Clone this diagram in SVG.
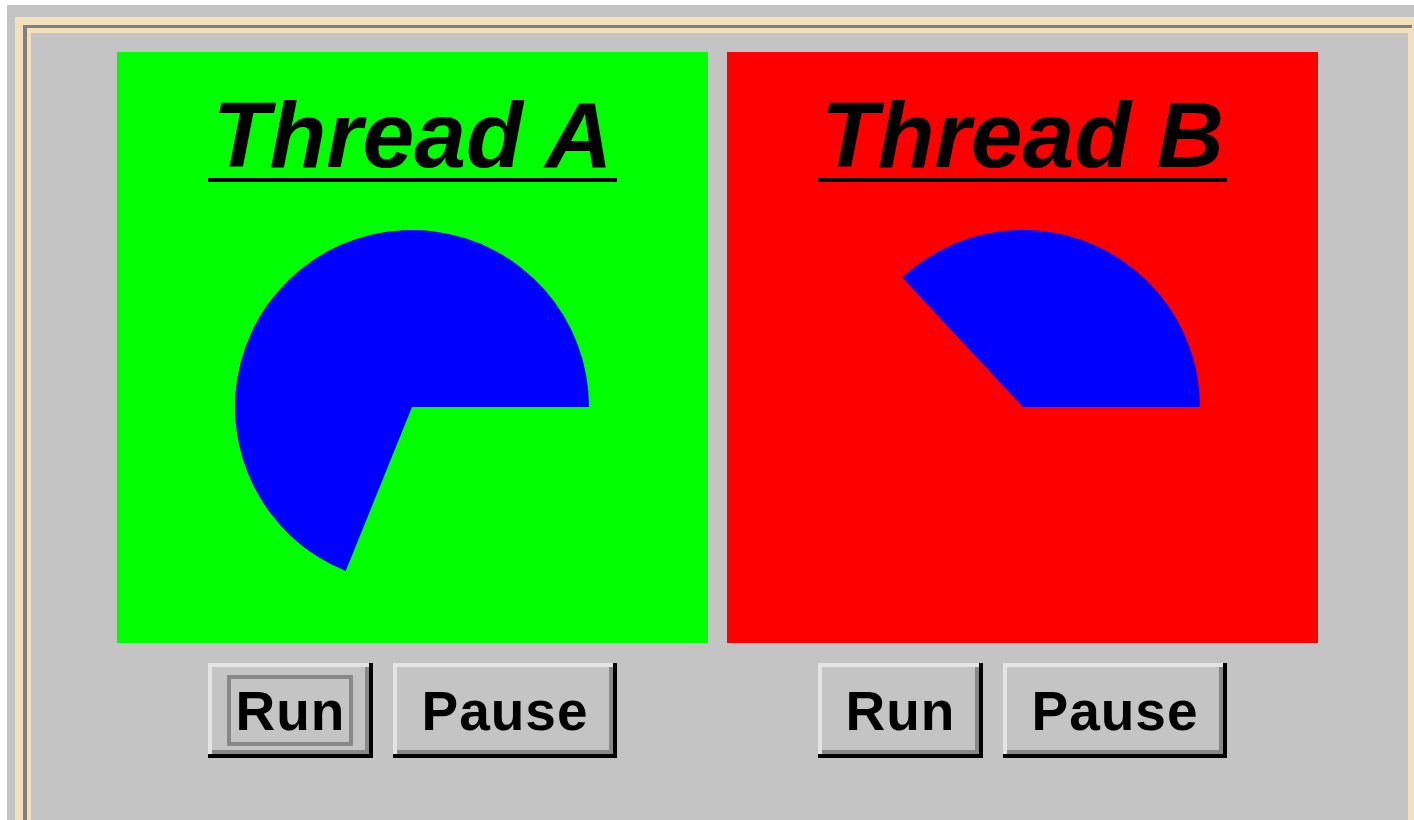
<svg xmlns="http://www.w3.org/2000/svg" width="1414" height="820" viewBox="0 0 1414 820">
  <style>
    .bg { fill: #c4c4c4; }
    .wood { fill: #f2e0bc; }
    .groove { fill: #808080; }
    .title { font-family: "Liberation Sans", Arial, sans-serif; font-weight: bold; font-style: italic; font-size: 93px; fill: #000; text-anchor: middle; }
    .btxt { font-family: "Liberation Sans", Arial, sans-serif; font-weight: bold; font-size: 55px; fill: #000; text-anchor: middle; letter-spacing: 1px; }
    .pie { fill: #0000ff; }
    .hl { fill: #e4e4e4; }
    .sh { fill: #888888; }
    .blk { fill: #000; }
    .face { fill: #c4c4c4; }
  </style>
  <defs>
    <g id="btnRun">
      <rect class="face" x="0" y="0" width="165" height="95"/>
      <rect class="hl" x="0" y="0" width="161" height="4"/>
      <rect class="hl" x="0" y="0" width="4" height="91"/>
      <rect class="sh" x="157" y="4" width="4" height="87"/>
      <rect class="sh" x="4" y="87" width="157" height="4"/>
      <rect class="blk" x="161" y="0" width="4" height="95"/>
      <rect class="blk" x="0" y="91" width="165" height="4"/>
    </g>
    <g id="btnPause">
      <rect class="face" x="0" y="0" width="224" height="95"/>
      <rect class="hl" x="0" y="0" width="220" height="4"/>
      <rect class="hl" x="0" y="0" width="4" height="91"/>
      <rect class="sh" x="216" y="4" width="4" height="87"/>
      <rect class="sh" x="4" y="87" width="216" height="4"/>
      <rect class="blk" x="220" y="0" width="4" height="95"/>
      <rect class="blk" x="0" y="91" width="224" height="4"/>
    </g>
  </defs>

  <g id="frame" shape-rendering="crispEdges">
    <rect x="0" y="0" width="1414" height="820" fill="#ffffff"/>
    <rect class="bg" x="7" y="5" width="1407" height="815"/>
    <rect class="wood" x="15" y="17" width="1399" height="803"/>
    <rect class="groove" x="23" y="25" width="1389" height="795"/>
    <rect class="wood" x="27" y="28" width="1385" height="792"/>
    <rect class="bg" x="31" y="33" width="1377" height="787"/>
  </g>

  <g id="threadA">
    <rect x="117" y="52" width="591" height="591" fill="#00ff00" shape-rendering="crispEdges"/>
    <text class="title" x="412.5" y="167">Thread A</text>
    <rect x="208" y="178" width="409" height="4" fill="#000" shape-rendering="crispEdges"/>
    <path class="pie" d="M412,407 L589,407 A177,177 0 1 0 345.7,571.1 Z"/>
  </g>

  <g id="threadB">
    <rect x="727" y="52" width="591" height="591" fill="#ff0000" shape-rendering="crispEdges"/>
    <text class="title" x="1022.5" y="167">Thread B</text>
    <rect x="818" y="178" width="409" height="4" fill="#000" shape-rendering="crispEdges"/>
    <path class="pie" d="M1023,407 L1200,407 A177,177 0 0 0 902.3,277.6 Z"/>
  </g>

  <g id="runA" shape-rendering="crispEdges">
    <use href="#btnRun" x="208" y="663"/>
    <rect x="229" y="677" width="122" height="67" fill="none" stroke="#888888" stroke-width="4"/>
    <text class="btxt" x="290.5" y="730">Run</text>
  </g>
  <g id="pauseA" shape-rendering="crispEdges">
    <use href="#btnPause" x="393" y="663"/>
    <text class="btxt" x="505" y="730">Pause</text>
  </g>
  <g id="runB" shape-rendering="crispEdges">
    <use href="#btnRun" x="818" y="663"/>
    <text class="btxt" x="900.5" y="730">Run</text>
  </g>
  <g id="pauseB" shape-rendering="crispEdges">
    <use href="#btnPause" x="1003" y="663"/>
    <text class="btxt" x="1115" y="730">Pause</text>
  </g>
  <g id="connectors"/>
</svg>
